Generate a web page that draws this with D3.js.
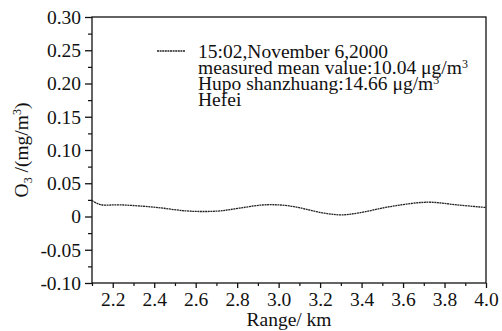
<!DOCTYPE html>
<html>
<head>
<meta charset="utf-8">
<script src="https://cdn.jsdelivr.net/npm/d3@7"></script>
<style>
  html, body { margin: 0; padding: 0; background: #fff; }
  svg { display: block; font-family: "Liberation Serif", "Times New Roman", serif; }
</style>
</head>
<body>
<svg id="chart" width="502" height="331"></svg>
<script>
// Ozone concentration along the measurement path
const rangeKm = [2.10, 2.14, 2.24, 2.40, 2.55, 2.64, 2.72, 2.81, 2.93, 3.05, 3.22, 3.30, 3.38, 3.54, 3.72, 3.86, 4.00];
const o3Values = [0.024, 0.018, 0.0175, 0.014, 0.0085, 0.0075, 0.0085, 0.0125, 0.0175, 0.016, 0.005, 0.0025, 0.005, 0.015, 0.0215, 0.0175, 0.0135];

const xTickValues = [2.2, 2.4, 2.6, 2.8, 3.0, 3.2, 3.4, 3.6, 3.8, 4.0];
const xTickLabels = ["2.2", "2.4", "2.6", "2.8", "3.0", "3.2", "3.4", "3.6", "3.8", "4.0"];
const yTickValues = [0.30, 0.25, 0.20, 0.15, 0.10, 0.05, 0, -0.05, -0.10];
const yTickLabels = ["0.30", "0.25", "0.20", "0.15", "0.10", "0.05", "0", "-0.05", "-0.10"];

const legendLines = ["15:02,November 6,2000", "measured mean value:10.04 μg/m", "Hupo shanzhuang:14.66 μg/m", "Hefei"];
const legendSup = [null, "3", "3", null];

const svg = d3.select("#chart");
const plotLeft = 92, plotRight = 486, plotTop = 17, plotBottom = 283;
const fontSize = 19.5;

const x = d3.scaleLinear().domain([2.1, 4.0]).range([plotLeft, plotRight]);
const y = d3.scaleLinear().domain([-0.10, 0.30]).range([plotBottom, plotTop]);

const ink = "#111";

// frame
svg.append("rect")
  .attr("x", plotLeft).attr("y", plotTop)
  .attr("width", plotRight - plotLeft).attr("height", plotBottom - plotTop)
  .attr("fill", "none").attr("stroke", ink).attr("stroke-width", 1.3);

// x axis: major and minor ticks
const xMinor = d3.range(2.1, 4.0001, 0.1).filter(v => !xTickValues.some(t => Math.abs(t - v) < 1e-6));
const xAxis = d3.axisBottom(x)
  .tickValues(xTickValues)
  .tickFormat((d, i) => xTickLabels[i])
  .tickSize(5).tickPadding(4);
const gx = svg.append("g").attr("transform", `translate(0,${plotBottom})`).call(xAxis);
gx.select(".domain").remove();
gx.selectAll("line").attr("stroke", ink).attr("stroke-width", 1.3);
gx.selectAll("text").attr("font-size", fontSize).attr("fill", ink)
  .attr("font-family", "Liberation Serif");
svg.append("g").attr("transform", `translate(0,${plotBottom})`)
  .call(d3.axisBottom(x).tickValues(xMinor).tickSize(3).tickFormat(""))
  .call(g => g.select(".domain").remove())
  .selectAll("line").attr("stroke", ink).attr("stroke-width", 1.2);

// y axis: major and minor ticks
const yMinor = d3.range(-0.075, 0.3, 0.05);
const yAxis = d3.axisLeft(y)
  .tickValues(yTickValues)
  .tickFormat((d, i) => yTickLabels[i])
  .tickSize(7).tickPadding(4);
const gy = svg.append("g").attr("transform", `translate(${plotLeft},0)`).call(yAxis);
gy.select(".domain").remove();
gy.selectAll("line").attr("stroke", ink).attr("stroke-width", 1.3);
gy.selectAll("text").attr("font-size", fontSize).attr("fill", ink)
  .attr("font-family", "Liberation Serif");
svg.append("g").attr("transform", `translate(${plotLeft},0)`)
  .call(d3.axisLeft(y).tickValues(yMinor).tickSize(4).tickFormat(""))
  .call(g => g.select(".domain").remove())
  .selectAll("line").attr("stroke", ink).attr("stroke-width", 1.2);

// ozone profile
const line = d3.line()
  .x((d, i) => x(rangeKm[i]))
  .y(d => y(d))
  .curve(d3.curveCatmullRom.alpha(0.5));
svg.append("path")
  .attr("d", line(o3Values))
  .attr("fill", "none")
  .attr("stroke", "#222")
  .attr("stroke-width", 1.3)
  .attr("stroke-dasharray", "2,0.6");

// legend
svg.append("line")
  .attr("x1", 157).attr("x2", 185)
  .attr("y1", 51).attr("y2", 51)
  .attr("stroke", "#222").attr("stroke-width", 1.3)
  .attr("stroke-dasharray", "2,0.6");
const legend = svg.append("g").attr("font-size", fontSize).attr("fill", ink);
legendLines.forEach((t, i) => {
  const txt = legend.append("text")
    .attr("x", 198).attr("y", 58 + i * 16);
  txt.append("tspan").text(t);
  if (legendSup[i]) {
    txt.append("tspan").attr("dy", -6).attr("font-size", 12).text(legendSup[i]);
  }
});

// axis titles
svg.append("text")
  .attr("x", (plotLeft + plotRight) / 2).attr("y", 326)
  .attr("text-anchor", "middle")
  .attr("font-size", fontSize).attr("fill", ink)
  .text("Range/ km");

const yTitle = svg.append("text")
  .attr("transform", `translate(28,${(plotTop + plotBottom) / 2}) rotate(-90)`)
  .attr("text-anchor", "middle")
  .attr("font-size", fontSize).attr("fill", ink);
yTitle.append("tspan").text("O");
yTitle.append("tspan").attr("font-size", 12).attr("dy", 4).text("3");
yTitle.append("tspan").attr("dy", -4).text(" /(mg/m");
yTitle.append("tspan").attr("font-size", 12).attr("dy", -7).text("3");
yTitle.append("tspan").attr("dy", 7).text(")");
</script>
</body>
</html>
